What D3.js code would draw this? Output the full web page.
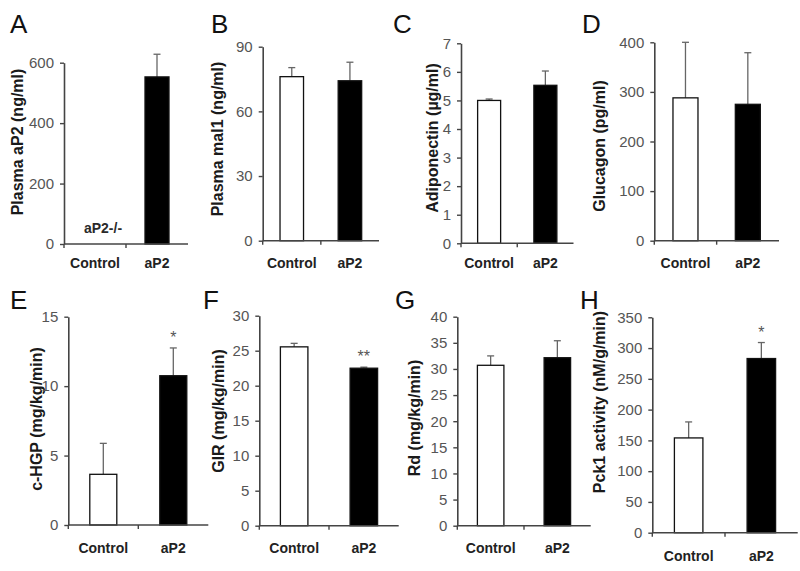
<!DOCTYPE html>
<html>
<head>
<meta charset="utf-8">
<script src="https://cdn.jsdelivr.net/npm/d3@7"></script>
<style>
  html, body { margin: 0; padding: 0; background: #fff; }
  svg { display: block; font-family: "Liberation Sans", Arial, Helvetica, sans-serif; }
</style>
</head>
<body>
<svg id="chart" width="800" height="571"></svg>
<script>
// ---------------- data ----------------
const categories = ["Control", "aP2"];
const panelLetters = ["A", "B", "C", "D", "E", "F", "G", "H"];
const yLabels = [
  "Plasma aP2 (ng/ml)", "Plasma mal1 (ng/ml)", "Adiponectin (\u00b5g/ml)", "Glucagon (pg/ml)",
  "c-HGP (mg/kg/min)", "GIR (mg/kg/min)", "Rd (mg/kg/min)", "Pck1 activity (nM/g/min)"
];
const controlMeans = [null, 76.1, 5.0, 288, 3.65, 25.55, 30.7, 154];
const controlErrs  = [null, 4.2, 0.05, 112, 2.23, 0.5, 1.8, 26];
const aP2Means     = [553, 74.2, 5.53, 275, 10.75, 22.5, 32.15, 283];
const aP2Errs      = [75, 8.6, 0.5, 104, 2.0, 0.15, 3.25, 26];
const yMaxes = [600, 90, 7, 400, 15, 30, 40, 350];
const yTicks = [
  [0, 200, 400, 600],
  [0, 30, 60, 90],
  [0, 1, 2, 3, 4, 5, 6, 7],
  [0, 100, 200, 300, 400],
  [0, 5, 10, 15],
  [0, 5, 10, 15, 20, 25, 30],
  [0, 5, 10, 15, 20, 25, 30, 35, 40],
  [0, 50, 100, 150, 200, 250, 300, 350]
];
const significance = ["", "", "", "", "*", "**", "", "*"];
const missingNote = "aP2-/-";

// ---------------- layout (positions only) ----------------
const layout = [
  {axisX: 64,    y0: 244,   yTop: 62.7,  xEnd: 188,   barW: 24,   labX: 17,  labY: 142, letX: 10,  letY: 33,  catY: 268},
  {axisX: 262.7, y0: 240.7, yTop: 46.7,  xEnd: 379,   barW: 23.5, labX: 217, labY: 139, letX: 211, letY: 33,  catY: 268},
  {axisX: 461,   y0: 243.3, yTop: 43.3,  xEnd: 573.5, barW: 23,   labX: 432, labY: 138, letX: 393, letY: 33,  catY: 268},
  {axisX: 654.3, y0: 240.7, yTop: 42.3,  xEnd: 779,   barW: 25,   labX: 599, labY: 146, letX: 582, letY: 33,  catY: 268},
  {axisX: 68.3,  y0: 525,   yTop: 316.7, xEnd: 208.3, barW: 27,   labX: 36,  labY: 419, letX: 10,  letY: 309, catY: 553},
  {axisX: 259.3, y0: 525.7, yTop: 315.7, xEnd: 398.7, barW: 27.5, labX: 218, labY: 411, letX: 203, letY: 309, catY: 553},
  {axisX: 457.3, y0: 525.7, yTop: 316.7, xEnd: 590.7, barW: 26.5, labX: 414, labY: 418, letX: 395, letY: 309, catY: 553},
  {axisX: 652.3, y0: 532.7, yTop: 317.3, xEnd: 797.7, barW: 28.5, labX: 599, labY: 402, letX: 580, letY: 309, catY: 561}
];

const svg = d3.select("#chart");
const axisColor = "#444";
const errColor = "#666";

panelLetters.forEach((letter, i) => {
  const L = layout[i];
  const g = svg.append("g");

  const y = d3.scaleLinear().domain([0, yMaxes[i]]).range([L.y0, L.yTop]);
  const x = d3.scaleBand().domain(categories).range([L.axisX, L.xEnd]);

  // panel letter
  g.append("text")
    .attr("x", L.letX).attr("y", L.letY)
    .attr("font-size", 26).attr("fill", "#111")
    .text(letter);

  // y label
  g.append("text")
    .attr("transform", `translate(${L.labX},${L.labY}) rotate(-90)`)
    .attr("text-anchor", "middle").attr("dominant-baseline", "central")
    .attr("font-size", 16).attr("font-weight", "bold").attr("fill", "#1a1a1a")
    .text(yLabels[i]);

  // bars
  const vals = [
    {cat: categories[0], v: controlMeans[i], e: controlErrs[i], fill: "#fff"},
    {cat: categories[1], v: aP2Means[i], e: aP2Errs[i], fill: "#000"}
  ];

  vals.forEach(d => {
    if (d.v == null) return;
    const cx = x(d.cat) + x.bandwidth() / 2;
    const yt = y(d.v + d.e);
    g.append("line")
      .attr("x1", cx).attr("x2", cx)
      .attr("y1", y(d.v)).attr("y2", yt)
      .attr("stroke", errColor).attr("stroke-width", 1.3);
    g.append("line")
      .attr("x1", cx - 3.5).attr("x2", cx + 3.5)
      .attr("y1", yt).attr("y2", yt)
      .attr("stroke", errColor).attr("stroke-width", 1.3);
    g.append("rect")
      .attr("x", cx - L.barW / 2).attr("width", L.barW)
      .attr("y", y(d.v)).attr("height", y(0) - y(d.v))
      .attr("fill", d.fill).attr("stroke", "#111").attr("stroke-width", 1.3);
  });

  // significance markers
  if (significance[i]) {
    const cx = x(categories[1]) + x.bandwidth() / 2;
    g.append("text")
      .attr("x", cx).attr("y", y(aP2Means[i] + aP2Errs[i]) - 5)
      .attr("text-anchor", "middle").attr("font-size", 16).attr("fill", "#555")
      .text(significance[i]);
  }

  // missing note (knockout has no aP2)
  if (controlMeans[i] == null) {
    g.append("text")
      .attr("x", x(categories[0]) + x.bandwidth() / 2 + 8).attr("y", L.y0 - 11)
      .attr("text-anchor", "middle").attr("font-size", 14).attr("font-weight", "bold")
      .attr("fill", "#2a2a2a")
      .text(missingNote);
  }

  // y axis
  const yAxis = g.append("g")
    .attr("transform", `translate(${L.axisX},0)`)
    .call(d3.axisLeft(y).tickValues(yTicks[i]).tickSize(4).tickSizeOuter(0).tickPadding(6).tickFormat(d3.format("d")));
  yAxis.select(".domain").attr("stroke", axisColor).attr("stroke-width", 1.6);
  yAxis.selectAll(".tick line").attr("stroke", axisColor).attr("stroke-width", 1.4);
  yAxis.selectAll(".tick text").attr("font-size", 15).attr("fill", "#555")
    .attr("font-family", "'Liberation Sans', Arial, sans-serif");

  // x axis
  g.append("line")
    .attr("x1", L.axisX).attr("x2", L.xEnd)
    .attr("y1", L.y0).attr("y2", L.y0)
    .attr("stroke", axisColor).attr("stroke-width", 1.6);
  [L.axisX, x(categories[1])].forEach(tx => {
    g.append("line")
      .attr("x1", tx).attr("x2", tx)
      .attr("y1", L.y0).attr("y2", L.y0 + 4)
      .attr("stroke", axisColor).attr("stroke-width", 1.4);
  });

  // category labels
  categories.forEach(c => {
    g.append("text")
      .attr("x", x(c) + x.bandwidth() / 2).attr("y", L.catY)
      .attr("text-anchor", "middle").attr("font-size", 14).attr("font-weight", "bold")
      .attr("fill", "#222")
      .text(c);
  });
});
</script>
</body>
</html>
